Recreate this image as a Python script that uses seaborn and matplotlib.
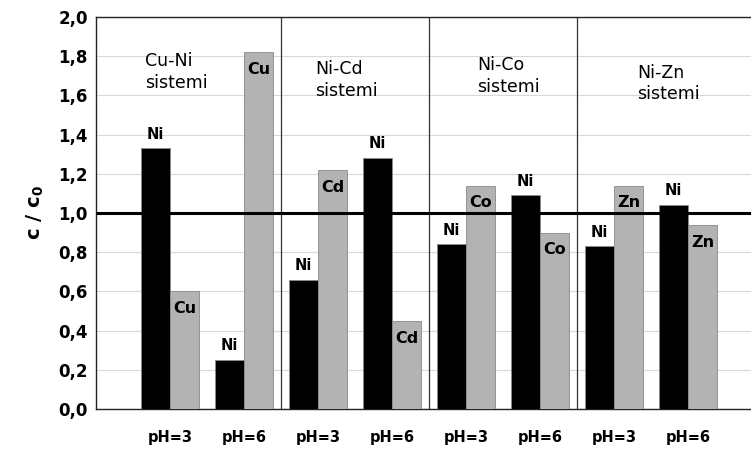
import pandas as pd
import numpy as np
import matplotlib.pyplot as plt
import seaborn as sns

# ==========================================
# DATA
# ==========================================

systems = ["Cu-Ni", "Ni-Cd", "Ni-Co", "Ni-Zn"]
partners = ["Cu", "Cd", "Co", "Zn"]
ph_labels = ["pH=3", "pH=6"]

# c/c0 values, one per bar (pH=3, pH=6 for each system)
ni_values = [1.33, 0.25, 0.66, 1.28, 0.84, 1.09, 0.83, 1.04]
partner_values = [0.60, 1.82, 1.22, 0.45, 1.14, 0.90, 1.14, 0.94]

y_ticks = [0.0, 0.2, 0.4, 0.6, 0.8, 1.0, 1.2, 1.4, 1.6, 1.8, 2.0]

# ==========================================
# LONG TABLE FOR SEABORN
# ==========================================

cats = [s + " " + p for s in systems for p in ph_labels]
partner_names = [m for m in partners for _ in ph_labels]

df = pd.DataFrame({
    "cat": cats * 2,
    "metal": ["Ni"] * len(cats) + ["Partner"] * len(cats),
    "value": ni_values + partner_values,
})

# ==========================================
# PLOT
# ==========================================

sns.set_style("white")
plt.rcParams['font.family'] = ['DejaVu Sans']
plt.rcParams['text.color'] = 'black'
plt.rcParams['axes.labelcolor'] = 'black'
plt.rcParams['xtick.color'] = 'black'
plt.rcParams['ytick.color'] = 'black'

fig = plt.figure(figsize=(7.51, 4.49), dpi=100)
ax = fig.add_axes([0.128, 0.089, 0.872, 0.873])

sns.barplot(
    data=df, x="cat", y="value", hue="metal", order=cats,
    palette={"Ni": "#000000", "Partner": "#b3b3b3"},
    width=0.79, ax=ax, legend=False, zorder=3,
    edgecolor="#8a8a8a", linewidth=0.6,
)

# grid lines
for t in y_ticks:
    ax.axhline(t, color="#d9d9d9", linewidth=0.8, zorder=0)

# reference line c/c0 = 1
ax.axhline(1.0, color="black", linewidth=2.2, zorder=4)

# system dividers
for i in range(1, len(systems)):
    ax.axvline(2 * i - 0.5, color="#333333", linewidth=0.9, zorder=2)

# bar labels
bars = ax.patches
n = len(cats)
for i in range(n):
    ni_bar = bars[i]
    ax.text(ni_bar.get_x() + ni_bar.get_width() / 2, ni_values[i] + 0.035, "Ni",
            ha="center", va="bottom", fontsize=10.5, fontweight="bold", zorder=5)
    pb = bars[n + i]
    ax.text(pb.get_x() + pb.get_width() / 2, partner_values[i] - 0.05, partner_names[i],
            ha="center", va="top", fontsize=11.5, fontweight="bold", zorder=5)

# system titles
title_pos = [(0.08, 1.72), (2.38, 1.68), (4.57, 1.70), (6.73, 1.66)]
for s, (x, y) in zip(systems, title_pos):
    ax.text(x, y, s + "\nsistemi", ha="center", va="center", fontsize=12.5,
            linespacing=1.25, multialignment="left", zorder=5)

ax.set_xlim(-1.0, 7.85)
ax.set_ylim(0, 2.0)
ax.set_yticks(y_ticks)
ax.set_yticklabels([f"{t:.1f}".replace(".", ",") for t in y_ticks],
                   fontsize=12, fontweight="bold")
ax.set_xticks(range(n))
ax.set_xticklabels(ph_labels * len(systems), fontsize=10.5, fontweight="bold")
ax.tick_params(axis="x", length=3, pad=12)
ax.tick_params(axis="y", length=0, pad=6)

ax.set_xlabel("")
ax.set_ylabel("c / c$_\\mathbf{0}$", fontsize=14, fontweight="bold", labelpad=9)

for side in ["left", "bottom", "top"]:
    ax.spines[side].set_color("#222222")
    ax.spines[side].set_linewidth(1.0)
ax.spines["right"].set_visible(False)

plt.savefig("out.png", dpi=100)
